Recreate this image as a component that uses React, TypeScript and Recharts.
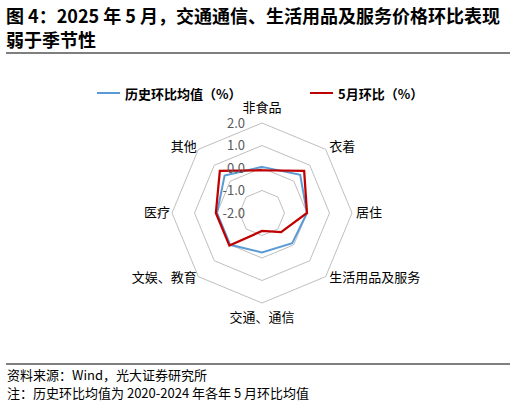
import React from 'react';
import { RadarChart, Radar, PolarGrid, PolarAngleAxis, PolarRadiusAxis } from 'recharts';

const categories = ['非食品', '衣着', '居住', '生活用品及服务', '交通、通信', '文娱、教育', '医疗', '其他'];
const historyAvg = [0.05, 0.4, 0.0, -0.1, -0.25, 0.0, 0.0, 0.35];
const may2025 = [-0.1, 0.65, 0.0, -0.8, -1.2, 0.05, 0.05, 0.65];
const radiusTicks = [-2, -1, 0, 1, 2];

const data = categories.map((name, i) => ({
  name,
  hist: historyAvg[i],
  may: may2025[i],
}));

const FONT = "'Noto Sans CJK SC', 'Noto Sans', sans-serif";
const CX = 262;
const CY = 213;

const AngleTick = (props: any) => {
  const { x, y, payload } = props;
  let anchor: 'start' | 'middle' | 'end' = 'middle';
  let dx = 0;
  let dy = 4;
  if (x > CX + 2) {
    anchor = 'start';
    dx = 3;
  } else if (x < CX - 2) {
    anchor = 'end';
    dx = -1;
  }
  if (y < CY - 70) dy = -10;
  else if (y > CY + 70) dy = 18;
  else if (y < CY - 2) dy = 2.5;
  else if (y > CY + 2) dy = 5;
  else dy = 3.5;
  return (
    <text x={x + dx} y={y + dy} textAnchor={anchor} fontSize={13} fill="#000" fontFamily={FONT}>
      {payload.value}
    </text>
  );
};

const RadiusTick = (props: any) => {
  const { x, y, payload } = props;
  return (
    <text x={x - 17} y={y + 4.5} textAnchor="end" fontSize={13} fill="#595959" fontFamily={FONT}>
      {Number(payload.value).toFixed(1)}
    </text>
  );
};

function LegendItem({ color, label, left }: { color: string; label: string; left: number }) {
  return (
    <div style={{ position: 'absolute', left, top: 84, height: 18, display: 'flex', alignItems: 'center' }}>
      <div style={{ width: 23, height: 2, background: color, marginRight: 5 }} />
      <span style={{ fontSize: 13, fontWeight: 700, color: '#000', whiteSpace: 'nowrap' }}>{label}</span>
    </div>
  );
}

export default function App() {
  return (
    <div
      style={{
        position: 'absolute',
        left: 0,
        top: 0,
        width: 516,
        height: 403,
        background: '#fff',
        fontFamily: FONT,
        overflow: 'hidden',
      }}
    >
      <div
        style={{
          position: 'absolute',
          left: 6,
          top: 3,
          width: 505,
          fontSize: 18,
          lineHeight: '24px',
          fontWeight: 700,
          color: '#000',
        }}
      >
        图 4：2025 年 5 月，交通通信、生活用品及服务价格环比表现
        <br />
        弱于季节性
      </div>
      <div style={{ position: 'absolute', left: 6, top: 52, width: 504, height: 2, background: '#7f7f7f' }} />

      <div style={{ position: 'absolute', left: 0, top: 0 }}>
        <RadarChart
          width={516}
          height={403}
          data={data}
          cx={CX}
          cy={CY}
          outerRadius={90}
          margin={{ top: 0, right: 0, bottom: 0, left: 0 }}
        >
          <PolarGrid gridType="polygon" radialLines={false} stroke="#bfbfbf" strokeWidth={1} />
          <PolarAngleAxis dataKey="name" tick={<AngleTick />} tickLine={false} axisLine={false} tickSize={1} />
          <PolarRadiusAxis
            angle={90}
            domain={[-2, 2]}
            ticks={radiusTicks}
            tickCount={5}
            axisLine={false}
            tickLine={false}
            tick={<RadiusTick />}
          />
          <Radar
            dataKey="hist"
            stroke="#5b9bd5"
            strokeWidth={2}
            fill="none"
            fillOpacity={0}
            dot={false}
            isAnimationActive={false}
          />
          <Radar
            dataKey="may"
            stroke="#c00000"
            strokeWidth={2.25}
            fill="none"
            fillOpacity={0}
            dot={false}
            isAnimationActive={false}
          />
        </RadarChart>
      </div>

      <LegendItem color="#5b9bd5" label="历史环比均值（%）" left={97} />
      <LegendItem color="#c00000" label="5月环比（%）" left={310} />

      <div style={{ position: 'absolute', left: 6, top: 363, width: 504, height: 2, background: '#7f7f7f' }} />
      <div style={{ position: 'absolute', left: 7, top: 366, fontSize: 13, lineHeight: '17.5px', color: '#000' }}>
        资料来源：Wind，光大证券研究所
        <br />
        注：历史环比均值为 2020-2024 年各年 5 月环比均值
      </div>
    </div>
  );
}
